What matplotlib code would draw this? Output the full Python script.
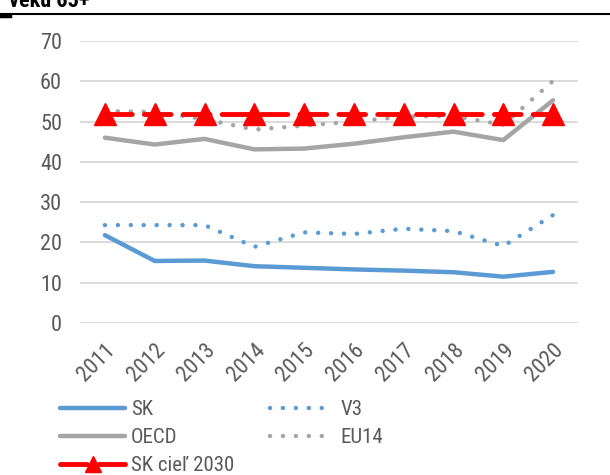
import matplotlib.pyplot as plt
import numpy as np

plt.rcParams['font.family'] = ['Roboto Condensed', 'Liberation Sans', 'DejaVu Sans']

years = ['2011', '2012', '2013', '2014', '2015', '2016', '2017', '2018', '2019', '2020']
sk = [21.8, 15.4, 15.5, 14.1, 13.7, 13.3, 13.0, 12.6, 11.5, 12.7]
v3 = [24.3, 24.3, 24.3, 18.9, 22.5, 22.1, 23.4, 22.8, 19.1, 26.8]
oecd = [46.0, 44.3, 45.7, 43.1, 43.3, 44.5, 46.1, 47.5, 45.4, 55.3]
eu14 = [52.6, 52.4, 50.6, 48.0, 49.0, 50.0, 51.2, 51.4, 49.2, 60.1]
sk_target = [52, 52, 52, 52, 52, 52, 52, 52, 52, 52]

blue = '#5b9bd5'
grey = '#a5a5a5'
red = '#ff0000'
text_col = '#595959'

fig = plt.figure(figsize=(6.1, 4.75), dpi=100)
ax = fig.add_axes([80 / 610, 1 - 323 / 475, (578 - 80) / 610, (323 - 41) / 475])

x = np.arange(len(years))
dots = (0, (0.01, 2.9))
l_sk, = ax.plot(x, sk, color=blue, lw=3.2, solid_capstyle='round', label='SK')
l_v3, = ax.plot(x, v3, color=blue, lw=3.2, ls=dots, dash_capstyle='round', label='V3')
l_oecd, = ax.plot(x, oecd, color=grey, lw=3.2, solid_capstyle='round', label='OECD')
l_eu, = ax.plot(x, eu14, color=grey, lw=3.2, ls=dots, dash_capstyle='round', label='EU14')
l_tg, = ax.plot(x, sk_target, color=red, lw=3.5, ls=(0, (5.5, 2.5)), dash_capstyle='round',
                marker='^', ms=16, mec=red, mfc=red, label='SK cieľ 2030')

ax.set_xlim(-0.5, 9.5)
ax.set_ylim(0, 70)
ax.set_yticks(range(0, 71, 10))
ax.set_xticks(x)
ax.set_xticklabels(years, rotation=45, ha='right', va='top', rotation_mode='anchor')
ax.grid(axis='y', color='#d9d9d9', lw=1.3)
ax.set_axisbelow(True)
for s in ax.spines.values():
    s.set_visible(False)
ax.tick_params(length=0, labelsize=16, labelcolor=text_col)
ax.tick_params(axis='y', pad=13)
ax.tick_params(axis='x', pad=12)

leg = fig.legend([l_sk, l_oecd, l_tg, l_v3, l_eu],
                 ['SK', 'OECD', 'SK cieľ 2030', 'V3', 'EU14'],
                 ncol=2, frameon=False, fontsize=15, labelcolor=text_col,
                 loc='upper left', bbox_to_anchor=(52 / 610, 1 - 392 / 475),
                 handlelength=3.1, handletextpad=0.3, labelspacing=0.42,
                 columnspacing=1.7, borderaxespad=0, markerscale=0.75)

# heading cut off at the top and the rule under it
fig.text(9 / 610, 1 - 7 / 475, 'veku 65+', fontsize=16, fontweight='bold',
         color='black', va='baseline')
fig.add_artist(plt.Line2D([0, 1], [1 - 14 / 475] * 2, color='black', lw=1.5))
fig.add_artist(plt.Line2D([0, 10 / 610], [1 - 16 / 475] * 2, color='black', lw=2.5))

fig.savefig('out.png', dpi=100)
